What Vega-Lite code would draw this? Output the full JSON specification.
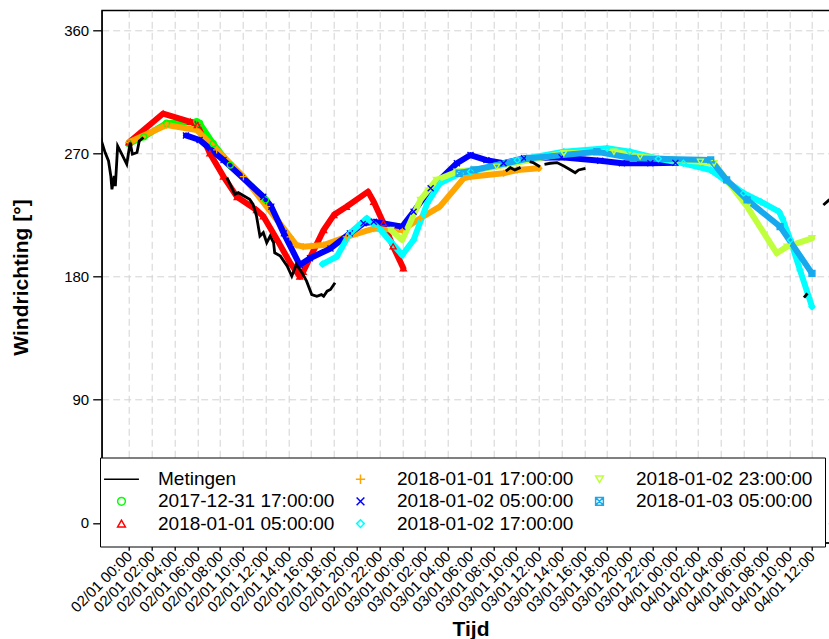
{
  "$schema": "https://vega.github.io/schema/vega-lite/v6.json",
  "width": 737.6,
  "height": 532.4,
  "autosize": {"type": "none"},
  "padding": {"left": 101.7, "top": 10.3, "right": -10.3, "bottom": 96.3},
  "background": "white",
  "config": {
    "font": "Liberation Sans",
    "view": {"stroke": "black", "strokeWidth": 1.3},
    "axis": {
      "domainColor": "black", "domainWidth": 1.3,
      "tickColor": "black", "tickWidth": 1.3,
      "labelColor": "black", "labelFont": "Liberation Sans", "labelFontSize": 15,
      "titleColor": "black", "titleFont": "Liberation Sans", "titleFontSize": 21, "titleFontWeight": "bold",
      "gridColor": "#D3D3D3", "gridDash": [7, 4], "gridWidth": 1
    }
  },
  "data": {
    "values": [
      {"reeks": "Metingen", "deel": "a", "tijd": "2018-01-01T21:30:00Z", "graden": 281},
      {"reeks": "Metingen", "deel": "a", "tijd": "2018-01-01T21:54:00Z", "graden": 270.5},
      {"reeks": "Metingen", "deel": "a", "tijd": "2018-01-01T22:12:00Z", "graden": 264.4},
      {"reeks": "Metingen", "deel": "a", "tijd": "2018-01-01T22:24:00Z", "graden": 253.4},
      {"reeks": "Metingen", "deel": "a", "tijd": "2018-01-01T22:30:00Z", "graden": 243.7},
      {"reeks": "Metingen", "deel": "a", "tijd": "2018-01-01T22:42:00Z", "graden": 253.4},
      {"reeks": "Metingen", "deel": "a", "tijd": "2018-01-01T22:48:00Z", "graden": 246},
      {"reeks": "Metingen", "deel": "a", "tijd": "2018-01-01T23:00:00Z", "graden": 275.3},
      {"reeks": "Metingen", "deel": "a", "tijd": "2018-01-01T23:22:00Z", "graden": 269.3},
      {"reeks": "Metingen", "deel": "a", "tijd": "2018-01-01T23:48:00Z", "graden": 262},
      {"reeks": "Metingen", "deel": "a", "tijd": "2018-01-02T00:06:00Z", "graden": 277.8},
      {"reeks": "Metingen", "deel": "a", "tijd": "2018-01-02T00:18:00Z", "graden": 269.3},
      {"reeks": "Metingen", "deel": "a", "tijd": "2018-01-02T00:42:00Z", "graden": 270.5},
      {"reeks": "Metingen", "deel": "a", "tijd": "2018-01-02T00:54:00Z", "graden": 279},
      {"reeks": "Metingen", "deel": "a", "tijd": "2018-01-02T01:16:00Z", "graden": 281.5},
      {"reeks": "Metingen", "deel": "b", "tijd": "2018-01-02T08:36:00Z", "graden": 252.2},
      {"reeks": "Metingen", "deel": "b", "tijd": "2018-01-02T09:18:00Z", "graden": 240},
      {"reeks": "Metingen", "deel": "b", "tijd": "2018-01-02T09:36:00Z", "graden": 241.2},
      {"reeks": "Metingen", "deel": "b", "tijd": "2018-01-02T10:36:00Z", "graden": 236.3},
      {"reeks": "Metingen", "deel": "b", "tijd": "2018-01-02T10:54:00Z", "graden": 232.7},
      {"reeks": "Metingen", "deel": "b", "tijd": "2018-01-02T11:12:00Z", "graden": 224.1},
      {"reeks": "Metingen", "deel": "b", "tijd": "2018-01-02T11:30:00Z", "graden": 209.5},
      {"reeks": "Metingen", "deel": "b", "tijd": "2018-01-02T11:48:00Z", "graden": 212},
      {"reeks": "Metingen", "deel": "b", "tijd": "2018-01-02T12:06:00Z", "graden": 204.7},
      {"reeks": "Metingen", "deel": "b", "tijd": "2018-01-02T12:24:00Z", "graden": 209.5},
      {"reeks": "Metingen", "deel": "b", "tijd": "2018-01-02T12:42:00Z", "graden": 204.7},
      {"reeks": "Metingen", "deel": "b", "tijd": "2018-01-02T12:48:00Z", "graden": 197.3},
      {"reeks": "Metingen", "deel": "b", "tijd": "2018-01-02T13:18:00Z", "graden": 194.9},
      {"reeks": "Metingen", "deel": "b", "tijd": "2018-01-02T13:54:00Z", "graden": 187.5},
      {"reeks": "Metingen", "deel": "b", "tijd": "2018-01-02T14:18:00Z", "graden": 180.2},
      {"reeks": "Metingen", "deel": "b", "tijd": "2018-01-02T14:42:00Z", "graden": 188.8},
      {"reeks": "Metingen", "deel": "b", "tijd": "2018-01-02T15:12:00Z", "graden": 182.7},
      {"reeks": "Metingen", "deel": "b", "tijd": "2018-01-02T15:36:00Z", "graden": 176.6},
      {"reeks": "Metingen", "deel": "b", "tijd": "2018-01-02T16:03:00Z", "graden": 166.8},
      {"reeks": "Metingen", "deel": "b", "tijd": "2018-01-02T16:30:00Z", "graden": 165.6},
      {"reeks": "Metingen", "deel": "b", "tijd": "2018-01-02T16:54:00Z", "graden": 166.8},
      {"reeks": "Metingen", "deel": "b", "tijd": "2018-01-02T17:06:00Z", "graden": 165.6},
      {"reeks": "Metingen", "deel": "b", "tijd": "2018-01-02T17:24:00Z", "graden": 169.3},
      {"reeks": "Metingen", "deel": "b", "tijd": "2018-01-02T17:42:00Z", "graden": 170.5},
      {"reeks": "Metingen", "deel": "b", "tijd": "2018-01-02T18:06:00Z", "graden": 175.4},
      {"reeks": "Metingen", "deel": "c", "tijd": "2018-01-03T09:06:00Z", "graden": 257},
      {"reeks": "Metingen", "deel": "c", "tijd": "2018-01-03T09:30:00Z", "graden": 259.5},
      {"reeks": "Metingen", "deel": "c", "tijd": "2018-01-03T09:54:00Z", "graden": 257.8},
      {"reeks": "Metingen", "deel": "c", "tijd": "2018-01-03T10:24:00Z", "graden": 259.7},
      {"reeks": "Metingen", "deel": "d", "tijd": "2018-01-03T11:12:00Z", "graden": 263.8},
      {"reeks": "Metingen", "deel": "d", "tijd": "2018-01-03T11:30:00Z", "graden": 263.2},
      {"reeks": "Metingen", "deel": "d", "tijd": "2018-01-03T12:06:00Z", "graden": 260.2},
      {"reeks": "Metingen", "deel": "e", "tijd": "2018-01-03T12:30:00Z", "graden": 261.9},
      {"reeks": "Metingen", "deel": "e", "tijd": "2018-01-03T13:00:00Z", "graden": 262.7},
      {"reeks": "Metingen", "deel": "e", "tijd": "2018-01-03T13:36:00Z", "graden": 263.2},
      {"reeks": "Metingen", "deel": "e", "tijd": "2018-01-03T14:12:00Z", "graden": 260.7},
      {"reeks": "Metingen", "deel": "e", "tijd": "2018-01-03T14:48:00Z", "graden": 257.8},
      {"reeks": "Metingen", "deel": "e", "tijd": "2018-01-03T15:12:00Z", "graden": 255.8},
      {"reeks": "Metingen", "deel": "e", "tijd": "2018-01-03T15:30:00Z", "graden": 257.8},
      {"reeks": "Metingen", "deel": "e", "tijd": "2018-01-03T16:06:00Z", "graden": 259},
      {"reeks": "Metingen", "deel": "f", "tijd": "2018-01-04T11:18:00Z", "graden": 164.5},
      {"reeks": "Metingen", "deel": "f", "tijd": "2018-01-04T11:36:00Z", "graden": 167.7},
      {"reeks": "Metingen", "deel": "g", "tijd": "2018-01-04T13:00:00Z", "graden": 232.2},
      {"reeks": "Metingen", "deel": "g", "tijd": "2018-01-04T13:30:00Z", "graden": 235.9},
      {"reeks": "Metingen", "deel": "g", "tijd": "2018-01-04T14:00:00Z", "graden": 238},

      {"reeks": "2017-12-31 17:00:00", "tijd": "2018-01-02T00:00:00Z", "graden": 277},
      {"reeks": "2017-12-31 17:00:00", "tijd": "2018-01-02T01:18:00Z", "graden": 282},
      {"reeks": "2017-12-31 17:00:00", "tijd": "2018-01-02T03:18:00Z", "graden": 292},
      {"reeks": "2017-12-31 17:00:00", "tijd": "2018-01-02T05:57:00Z", "graden": 293},
      {"reeks": "2017-12-31 17:00:00", "tijd": "2018-01-02T06:12:00Z", "graden": 292},
      {"reeks": "2017-12-31 17:00:00", "tijd": "2018-01-02T07:24:00Z", "graden": 277},
      {"reeks": "2017-12-31 17:00:00", "tijd": "2018-01-02T08:54:00Z", "graden": 261.4},
      {"reeks": "2017-12-31 17:00:00", "tijd": "2018-01-02T12:00:00Z", "graden": 236},

      {"reeks": "2018-01-01 05:00:00", "tijd": "2018-01-02T00:00:00Z", "graden": 278},
      {"reeks": "2018-01-01 05:00:00", "tijd": "2018-01-02T03:00:00Z", "graden": 299},
      {"reeks": "2018-01-01 05:00:00", "tijd": "2018-01-02T05:24:00Z", "graden": 293},
      {"reeks": "2018-01-01 05:00:00", "tijd": "2018-01-02T06:00:00Z", "graden": 290.6},
      {"reeks": "2018-01-01 05:00:00", "tijd": "2018-01-02T07:06:00Z", "graden": 270},
      {"reeks": "2018-01-01 05:00:00", "tijd": "2018-01-02T08:18:00Z", "graden": 253},
      {"reeks": "2018-01-01 05:00:00", "tijd": "2018-01-02T09:30:00Z", "graden": 238},
      {"reeks": "2018-01-01 05:00:00", "tijd": "2018-01-02T11:12:00Z", "graden": 228.6},
      {"reeks": "2018-01-01 05:00:00", "tijd": "2018-01-02T11:48:00Z", "graden": 224},
      {"reeks": "2018-01-01 05:00:00", "tijd": "2018-01-02T13:00:00Z", "graden": 207},
      {"reeks": "2018-01-01 05:00:00", "tijd": "2018-01-02T14:09:00Z", "graden": 190},
      {"reeks": "2018-01-01 05:00:00", "tijd": "2018-01-02T15:00:00Z", "graden": 180},
      {"reeks": "2018-01-01 05:00:00", "tijd": "2018-01-02T15:18:00Z", "graden": 183.5},
      {"reeks": "2018-01-01 05:00:00", "tijd": "2018-01-02T17:06:00Z", "graden": 214},
      {"reeks": "2018-01-01 05:00:00", "tijd": "2018-01-02T18:00:00Z", "graden": 225},
      {"reeks": "2018-01-01 05:00:00", "tijd": "2018-01-02T19:06:00Z", "graden": 231},
      {"reeks": "2018-01-01 05:00:00", "tijd": "2018-01-02T21:00:00Z", "graden": 242},
      {"reeks": "2018-01-01 05:00:00", "tijd": "2018-01-02T21:30:00Z", "graden": 234.6},
      {"reeks": "2018-01-01 05:00:00", "tijd": "2018-01-02T22:21:00Z", "graden": 219},
      {"reeks": "2018-01-01 05:00:00", "tijd": "2018-01-02T23:12:00Z", "graden": 202},
      {"reeks": "2018-01-01 05:00:00", "tijd": "2018-01-03T00:06:00Z", "graden": 186},

      {"reeks": "2018-01-01 17:00:00", "tijd": "2018-01-02T00:00:00Z", "graden": 278},
      {"reeks": "2018-01-01 17:00:00", "tijd": "2018-01-02T03:18:00Z", "graden": 290.6},
      {"reeks": "2018-01-01 17:00:00", "tijd": "2018-01-02T05:57:00Z", "graden": 287},
      {"reeks": "2018-01-01 17:00:00", "tijd": "2018-01-02T07:42:00Z", "graden": 272.4},
      {"reeks": "2018-01-01 17:00:00", "tijd": "2018-01-02T10:03:00Z", "graden": 252.9},
      {"reeks": "2018-01-01 17:00:00", "tijd": "2018-01-02T12:06:00Z", "graden": 231},
      {"reeks": "2018-01-01 17:00:00", "tijd": "2018-01-02T14:09:00Z", "graden": 209},
      {"reeks": "2018-01-01 17:00:00", "tijd": "2018-01-02T14:42:00Z", "graden": 203},
      {"reeks": "2018-01-01 17:00:00", "tijd": "2018-01-02T15:18:00Z", "graden": 201.8},
      {"reeks": "2018-01-01 17:00:00", "tijd": "2018-01-02T17:06:00Z", "graden": 203},
      {"reeks": "2018-01-01 17:00:00", "tijd": "2018-01-02T19:06:00Z", "graden": 209},
      {"reeks": "2018-01-01 17:00:00", "tijd": "2018-01-02T21:30:00Z", "graden": 215},
      {"reeks": "2018-01-01 17:00:00", "tijd": "2018-01-03T00:00:00Z", "graden": 214},
      {"reeks": "2018-01-01 17:00:00", "tijd": "2018-01-03T01:36:00Z", "graden": 222.5},
      {"reeks": "2018-01-01 17:00:00", "tijd": "2018-01-03T03:18:00Z", "graden": 231},
      {"reeks": "2018-01-01 17:00:00", "tijd": "2018-01-03T05:24:00Z", "graden": 251.7},
      {"reeks": "2018-01-01 17:00:00", "tijd": "2018-01-03T06:00:00Z", "graden": 252.9},
      {"reeks": "2018-01-01 17:00:00", "tijd": "2018-01-03T08:54:00Z", "graden": 255.4},
      {"reeks": "2018-01-01 17:00:00", "tijd": "2018-01-03T10:06:00Z", "graden": 257.8},
      {"reeks": "2018-01-01 17:00:00", "tijd": "2018-01-03T12:00:00Z", "graden": 259},

      {"reeks": "2018-01-02 05:00:00", "tijd": "2018-01-02T05:00:00Z", "graden": 283},
      {"reeks": "2018-01-02 05:00:00", "tijd": "2018-01-02T06:12:00Z", "graden": 279.7},
      {"reeks": "2018-01-02 05:00:00", "tijd": "2018-01-02T08:18:00Z", "graden": 265},
      {"reeks": "2018-01-02 05:00:00", "tijd": "2018-01-02T11:48:00Z", "graden": 238.3},
      {"reeks": "2018-01-02 05:00:00", "tijd": "2018-01-02T12:30:00Z", "graden": 231},
      {"reeks": "2018-01-02 05:00:00", "tijd": "2018-01-02T13:36:00Z", "graden": 211.5},
      {"reeks": "2018-01-02 05:00:00", "tijd": "2018-01-02T15:00:00Z", "graden": 188.4},
      {"reeks": "2018-01-02 05:00:00", "tijd": "2018-01-02T15:54:00Z", "graden": 193.3},
      {"reeks": "2018-01-02 05:00:00", "tijd": "2018-01-02T17:42:00Z", "graden": 200.5},
      {"reeks": "2018-01-02 05:00:00", "tijd": "2018-01-02T19:24:00Z", "graden": 211.5},
      {"reeks": "2018-01-02 05:00:00", "tijd": "2018-01-02T20:36:00Z", "graden": 218.9},
      {"reeks": "2018-01-02 05:00:00", "tijd": "2018-01-02T21:30:00Z", "graden": 220},
      {"reeks": "2018-01-02 05:00:00", "tijd": "2018-01-03T00:00:00Z", "graden": 216.4},
      {"reeks": "2018-01-02 05:00:00", "tijd": "2018-01-03T01:00:00Z", "graden": 227.3},
      {"reeks": "2018-01-02 05:00:00", "tijd": "2018-01-03T02:30:00Z", "graden": 244.4},
      {"reeks": "2018-01-02 05:00:00", "tijd": "2018-01-03T04:48:00Z", "graden": 262.7},
      {"reeks": "2018-01-02 05:00:00", "tijd": "2018-01-03T06:00:00Z", "graden": 268.7},
      {"reeks": "2018-01-02 05:00:00", "tijd": "2018-01-03T07:24:00Z", "graden": 265},
      {"reeks": "2018-01-02 05:00:00", "tijd": "2018-01-03T08:54:00Z", "graden": 262.7},
      {"reeks": "2018-01-02 05:00:00", "tijd": "2018-01-03T10:42:00Z", "graden": 266.3},
      {"reeks": "2018-01-02 05:00:00", "tijd": "2018-01-03T14:00:00Z", "graden": 267},
      {"reeks": "2018-01-02 05:00:00", "tijd": "2018-01-03T17:24:00Z", "graden": 264.5},
      {"reeks": "2018-01-02 05:00:00", "tijd": "2018-01-03T19:18:00Z", "graden": 262.7},
      {"reeks": "2018-01-02 05:00:00", "tijd": "2018-01-03T21:48:00Z", "graden": 262.7},
      {"reeks": "2018-01-02 05:00:00", "tijd": "2018-01-04T00:00:00Z", "graden": 263},

      {"reeks": "2018-01-02 17:00:00", "tijd": "2018-01-02T17:00:00Z", "graden": 189},
      {"reeks": "2018-01-02 17:00:00", "tijd": "2018-01-02T18:15:00Z", "graden": 194.5},
      {"reeks": "2018-01-02 17:00:00", "tijd": "2018-01-02T19:24:00Z", "graden": 211.5},
      {"reeks": "2018-01-02 17:00:00", "tijd": "2018-01-02T20:54:00Z", "graden": 222.5},
      {"reeks": "2018-01-02 17:00:00", "tijd": "2018-01-02T22:06:00Z", "graden": 214},
      {"reeks": "2018-01-02 17:00:00", "tijd": "2018-01-03T00:00:00Z", "graden": 195.7},
      {"reeks": "2018-01-02 17:00:00", "tijd": "2018-01-03T01:00:00Z", "graden": 206.7},
      {"reeks": "2018-01-02 17:00:00", "tijd": "2018-01-03T02:12:00Z", "graden": 233.5},
      {"reeks": "2018-01-02 17:00:00", "tijd": "2018-01-03T03:18:00Z", "graden": 248},
      {"reeks": "2018-01-02 17:00:00", "tijd": "2018-01-03T05:06:00Z", "graden": 255.4},
      {"reeks": "2018-01-02 17:00:00", "tijd": "2018-01-03T06:00:00Z", "graden": 256.5},
      {"reeks": "2018-01-02 17:00:00", "tijd": "2018-01-03T10:06:00Z", "graden": 265},
      {"reeks": "2018-01-02 17:00:00", "tijd": "2018-01-03T14:12:00Z", "graden": 271.1},
      {"reeks": "2018-01-02 17:00:00", "tijd": "2018-01-03T18:00:00Z", "graden": 273.6},
      {"reeks": "2018-01-02 17:00:00", "tijd": "2018-01-03T20:00:00Z", "graden": 271.1},
      {"reeks": "2018-01-02 17:00:00", "tijd": "2018-01-03T22:30:00Z", "graden": 266},
      {"reeks": "2018-01-02 17:00:00", "tijd": "2018-01-04T00:42:00Z", "graden": 262.7},
      {"reeks": "2018-01-02 17:00:00", "tijd": "2018-01-04T03:06:00Z", "graden": 257.8},
      {"reeks": "2018-01-02 17:00:00", "tijd": "2018-01-04T06:00:00Z", "graden": 240.8},
      {"reeks": "2018-01-02 17:00:00", "tijd": "2018-01-04T07:30:00Z", "graden": 234.6},
      {"reeks": "2018-01-02 17:00:00", "tijd": "2018-01-04T09:06:00Z", "graden": 227.3},
      {"reeks": "2018-01-02 17:00:00", "tijd": "2018-01-04T09:24:00Z", "graden": 222.5},
      {"reeks": "2018-01-02 17:00:00", "tijd": "2018-01-04T10:06:00Z", "graden": 206.7},
      {"reeks": "2018-01-02 17:00:00", "tijd": "2018-01-04T10:57:00Z", "graden": 184.7},
      {"reeks": "2018-01-02 17:00:00", "tijd": "2018-01-04T12:00:00Z", "graden": 158},

      {"reeks": "2018-01-02 23:00:00", "tijd": "2018-01-02T23:00:00Z", "graden": 214},
      {"reeks": "2018-01-02 23:00:00", "tijd": "2018-01-03T00:00:00Z", "graden": 206.7},
      {"reeks": "2018-01-02 23:00:00", "tijd": "2018-01-03T01:36:00Z", "graden": 235.9},
      {"reeks": "2018-01-02 23:00:00", "tijd": "2018-01-03T03:00:00Z", "graden": 250.5},
      {"reeks": "2018-01-02 23:00:00", "tijd": "2018-01-03T04:48:00Z", "graden": 256.5},
      {"reeks": "2018-01-02 23:00:00", "tijd": "2018-01-03T08:18:00Z", "graden": 260.2},
      {"reeks": "2018-01-02 23:00:00", "tijd": "2018-01-03T14:12:00Z", "graden": 270},
      {"reeks": "2018-01-02 23:00:00", "tijd": "2018-01-03T18:36:00Z", "graden": 271.1},
      {"reeks": "2018-01-02 23:00:00", "tijd": "2018-01-03T20:54:00Z", "graden": 267.5},
      {"reeks": "2018-01-02 23:00:00", "tijd": "2018-01-04T02:12:00Z", "graden": 263.8},
      {"reeks": "2018-01-02 23:00:00", "tijd": "2018-01-04T03:24:00Z", "graden": 262.7},
      {"reeks": "2018-01-02 23:00:00", "tijd": "2018-01-04T06:18:00Z", "graden": 231},
      {"reeks": "2018-01-02 23:00:00", "tijd": "2018-01-04T08:54:00Z", "graden": 197},
      {"reeks": "2018-01-02 23:00:00", "tijd": "2018-01-04T09:48:00Z", "graden": 201.8},
      {"reeks": "2018-01-02 23:00:00", "tijd": "2018-01-04T12:00:00Z", "graden": 207.9},

      {"reeks": "2018-01-03 05:00:00", "tijd": "2018-01-03T05:00:00Z", "graden": 255.4},
      {"reeks": "2018-01-03 05:00:00", "tijd": "2018-01-03T06:18:00Z", "graden": 257.8},
      {"reeks": "2018-01-03 05:00:00", "tijd": "2018-01-03T11:12:00Z", "graden": 266.3},
      {"reeks": "2018-01-03 05:00:00", "tijd": "2018-01-03T17:06:00Z", "graden": 271.1},
      {"reeks": "2018-01-03 05:00:00", "tijd": "2018-01-03T20:18:00Z", "graden": 266.3},
      {"reeks": "2018-01-03 05:00:00", "tijd": "2018-01-04T03:06:00Z", "graden": 265.1},
      {"reeks": "2018-01-03 05:00:00", "tijd": "2018-01-04T04:30:00Z", "graden": 250.5},
      {"reeks": "2018-01-03 05:00:00", "tijd": "2018-01-04T06:18:00Z", "graden": 235.9},
      {"reeks": "2018-01-03 05:00:00", "tijd": "2018-01-04T09:12:00Z", "graden": 216.4},
      {"reeks": "2018-01-03 05:00:00", "tijd": "2018-01-04T12:00:00Z", "graden": 182.3}
    ]
  },
  "encoding": {
    "x": {
      "field": "tijd", "type": "temporal",
      "scale": {"type": "utc", "domain": [1514842560000, 1515075840000], "nice": false},
      "axis": {
        "title": "Tijd",
        "values": [1514851200000, 1514858400000, 1514865600000, 1514872800000, 1514880000000, 1514887200000, 1514894400000, 1514901600000, 1514908800000, 1514916000000, 1514923200000, 1514930400000, 1514937600000, 1514944800000, 1514952000000, 1514959200000, 1514966400000, 1514973600000, 1514980800000, 1514988000000, 1514995200000, 1515002400000, 1515009600000, 1515016800000, 1515024000000, 1515031200000, 1515038400000, 1515045600000, 1515052800000, 1515060000000, 1515067200000],
        "labelExpr": "utcFormat(datum.value, '%d/%m %H:%M')",
        "labelAngle": -45, "labelAlign": "right", "labelBaseline": "middle",
        "labelPadding": 3, "tickSize": 7.5, "labelOverlap": false, "labelFlush": false, "labelBound": false,
        "titleX": 368.8, "titleY": 93, "titleAlign": "center", "titleBaseline": "alphabetic"
      }
    },
    "y": {
      "field": "graden", "type": "quantitative",
      "scale": {"domain": [-14.4, 374.4], "nice": false, "zero": false},
      "axis": {
        "title": "Windrichting [°]",
        "values": [0, 90, 180, 270, 360],
        "tickSize": 9, "labelPadding": 4,
        "titleAngle": -90, "titleX": -74.2, "titleY": 266.7, "titleAlign": "center", "titleBaseline": "alphabetic"
      }
    }
  },
  "layer": [
    {
      "transform": [{"filter": "datum.reeks !== 'Metingen'"}],
      "mark": {"type": "line", "strokeWidth": 6, "clip": true, "strokeJoin": "round", "strokeCap": "round"},
      "encoding": {
        "color": {
          "field": "reeks", "type": "nominal",
          "scale": {
            "domain": ["Metingen", "2017-12-31 17:00:00", "2018-01-01 05:00:00", "2018-01-01 17:00:00", "2018-01-02 05:00:00", "2018-01-02 17:00:00", "2018-01-02 23:00:00", "2018-01-03 05:00:00"],
            "range": ["#000000", "#00FF00", "#FF0000", "#FFA500", "#0000FF", "#00FFFF", "#C0FF3E", "#16A9EE"]
          },
          "legend": {
            "title": null, "orient": "none", "legendX": -1.7, "legendY": 447.2,
            "columns": 3, "padding": 12, "fillColor": "white", "strokeColor": "black",
            "labelFont": "Liberation Sans", "labelFontSize": 19, "labelColor": "black", "labelLimit": 400,
            "labelOffset": 27, "columnPadding": 16, "rowPadding": 2.3,
            "symbolSize": 60, "symbolStrokeWidth": 1.5, "symbolFillColor": "transparent", "symbolOpacity": 1
          }
        }
      }
    },
    {
      "transform": [{"filter": "datum.reeks !== 'Metingen'"}],
      "mark": {"type": "point", "filled": false, "size": 36, "strokeWidth": 1.3, "opacity": 1, "clip": true},
      "encoding": {
        "color": {"field": "reeks", "type": "nominal"},
        "shape": {
          "field": "reeks", "type": "nominal",
          "scale": {
            "domain": ["Metingen", "2017-12-31 17:00:00", "2018-01-01 05:00:00", "2018-01-01 17:00:00", "2018-01-02 05:00:00", "2018-01-02 17:00:00", "2018-01-02 23:00:00", "2018-01-03 05:00:00"],
            "range": ["M-4.5,0H4.5", "circle", "triangle-up", "M-1.2,0H1.2M0,-1.2V1.2", "M-1,-1L1,1M-1,1L1,-1", "diamond", "triangle-down", "M-1,-1H1V1H-1ZM-1,-1L1,1M-1,1L1,-1"]
          },
          "legend": {
            "title": null, "orient": "none", "legendX": -1.7, "legendY": 447.2,
            "columns": 3, "padding": 12, "fillColor": "white", "strokeColor": "black",
            "labelFont": "Liberation Sans", "labelFontSize": 19, "labelColor": "black", "labelLimit": 400,
            "labelOffset": 27, "columnPadding": 16, "rowPadding": 2.3,
            "symbolSize": 60, "symbolStrokeWidth": 1.5, "symbolFillColor": "transparent", "symbolOpacity": 1
          }
        }
      }
    },
    {
      "transform": [{"filter": "datum.reeks === 'Metingen'"}],
      "mark": {"type": "line", "strokeWidth": 2.8, "clip": true},
      "encoding": {
        "color": {"field": "reeks", "type": "nominal"},
        "detail": {"field": "deel", "type": "nominal"}
      }
    }
  ]
}
